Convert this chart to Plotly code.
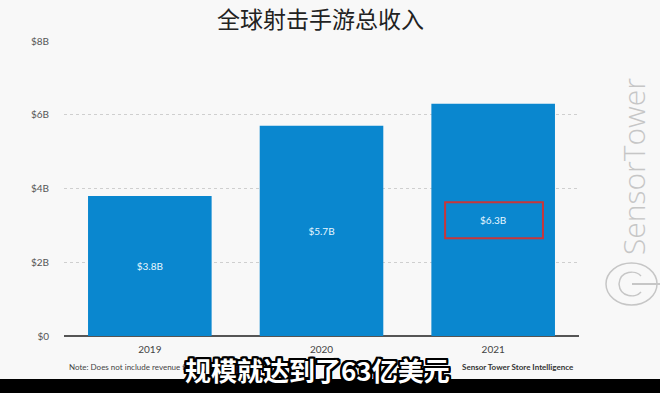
import plotly.graph_objects as go

years = ["2019", "2020", "2021"]
revenue_b = [3.8, 5.7, 6.3]
growth_labels = ["", "+50%", "+10.5%"]
ytick_vals = [0, 2, 4, 6, 8]
ytick_text = ["$0", "$2B", "$4B", "$6B", "$8B"]
title_text = "全球射击手游总收入"
note_text = "Note: Does not include revenue from"
source_text = "Sensor Tower Store Intelligence"
subtitle_text = "规模就达到了63亿美元"
watermark_text = "SensorTower"
highlight_index = 2

W, H = 660, 393
L, R, T, B = 64, 81, 41, 57
PW, PH = W - L - R, H - T - B


def px(x):
    return (x - L) / PW


def py(y):
    return (H - B - y) / PH


fig = go.Figure()
fig.add_trace(go.Bar(
    x=years, y=revenue_b,
    marker=dict(color="#0a87cf", line=dict(width=0)),
    width=0.72,
    text=[f"${v}B" for v in revenue_b],
    textposition="inside", insidetextanchor="middle",
    textfont=dict(family="Lato, Arial", size=10, color="#e8f7ff"),
    hoverinfo="skip",
))

annotations = []
for yr, v, g in zip(years, revenue_b, growth_labels):
    if g:
        annotations.append(dict(x=yr, y=v, text=g, showarrow=False, yanchor="bottom",
                                yshift=3, font=dict(family="Lato, Arial", size=10, color="#333")))

# title
annotations.append(dict(xref="paper", yref="paper", x=px(320), y=py(18), text=title_text,
                        showarrow=False, xanchor="center", yanchor="middle",
                        font=dict(family="Noto Sans CJK SC", size=23, color="#222")))
# note & source
annotations.append(dict(xref="paper", yref="paper", x=px(67), y=py(367), text=note_text,
                        showarrow=False, xanchor="left", yanchor="middle",
                        font=dict(family="Lato, Arial", size=8, color="#444")))
annotations.append(dict(xref="paper", yref="paper", x=px(576), y=py(367), text=f"<b>{source_text}</b>",
                        showarrow=False, xanchor="right", yanchor="middle",
                        font=dict(family="Lato, Arial", size=8, color="#333")))
# watermark
annotations.append(dict(xref="paper", yref="paper", x=px(633), y=py(167), text=watermark_text,
                        showarrow=False, textangle=-90, xanchor="center", yanchor="middle",
                        font=dict(family="Open Sans", size=30, weight=300, color="#c6c6c6")))

shapes = []
# black band
shapes.append(dict(type="rect", xref="paper", yref="paper", x0=px(0), x1=px(W), y0=py(379), y1=py(H + 2),
                   fillcolor="#000", line=dict(width=0), layer="above"))
# highlight rectangle around value label
hv = revenue_b[highlight_index]
shapes.append(dict(type="rect", xref="x", yref="y", x0=highlight_index - 0.28, x1=highlight_index + 0.29,
                   y0=hv / 2 - 0.5, y1=hv / 2 + 0.48, line=dict(color="#c8363a", width=2),
                   fillcolor="rgba(0,0,0,0)", layer="above"))
# logo
logo_col = "#c6c6c6"
shapes.append(dict(type="circle", xref="paper", yref="paper", x0=px(606), x1=px(657), y0=py(305), y1=py(263),
                   line=dict(color=logo_col, width=1.5)))
shapes.append(dict(type="path", xref="paper", yref="paper",
                   path=(f"M {px(641)},{py(276)} "
                         f"C {px(636)},{py(270)} {px(620)},{py(270)} {px(619)},{py(284)} "
                         f"C {px(620)},{py(298)} {px(636)},{py(298)} {px(641)},{py(292)}"),
                   line=dict(color=logo_col, width=1.5)))
shapes.append(dict(type="line", xref="paper", yref="paper", x0=px(632), x1=px(660), y0=py(284), y1=py(284),
                   line=dict(color=logo_col, width=2)))

# subtitle (outlined)
outline = ", ".join(f"{dx}px {dy}px 0 #000" for dx in (-2, -1, 0, 1, 2) for dy in (-2, -1, 0, 1, 2) if (dx, dy) != (0, 0))
annotations.append(dict(xref="paper", yref="paper", x=px(317), y=py(369), text=f"<b>{subtitle_text}</b>",
                        showarrow=False, xanchor="center", yanchor="middle",
                        font=dict(family="Noto Sans CJK SC", size=26, color="#ffffff", shadow=outline)))

fig.update_layout(
    width=W, height=H,
    margin=dict(l=L, r=R, t=T, b=B, pad=0),
    paper_bgcolor="#f8f8f8", plot_bgcolor="#f8f8f8",
    showlegend=False,
    annotations=annotations,
    shapes=shapes,
    xaxis=dict(range=[-0.5, 2.5], showgrid=False, showline=False, zeroline=False,
               ticks="outside", ticklen=4, tickcolor="rgba(0,0,0,0)",
               tickfont=dict(family="Lato, Arial", size=10, color="#444")),
    yaxis=dict(range=[0, 8], tickvals=ytick_vals, ticktext=ytick_text,
               showgrid=True, gridcolor="#cfcfcf", griddash="dot", gridwidth=1,
               zeroline=True, zerolinecolor="#555", zerolinewidth=1.5,
               showline=False, ticks="outside", ticklen=12, tickcolor="rgba(0,0,0,0)",
               tickfont=dict(family="Lato, Arial", size=10, color="#555")),
)

fig.write_html("out.html", config={"displayModeBar": False},
               post_script="document.body.style.margin='0';document.body.style.overflow='hidden';")
